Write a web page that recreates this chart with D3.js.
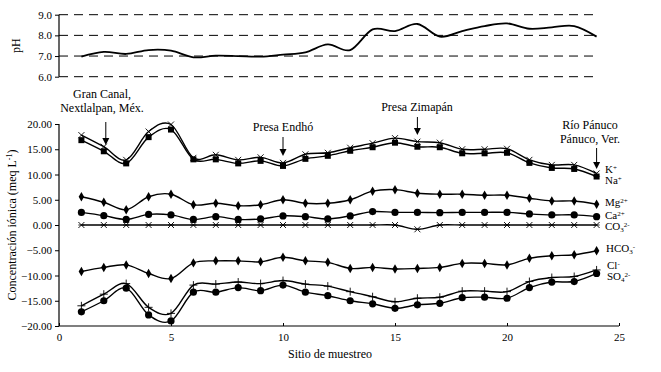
<!DOCTYPE html>
<html>
<head>
<meta charset="utf-8">
<script src="https://cdn.jsdelivr.net/npm/d3@7"></script>
<style>
  body { margin: 0; background: #fff; }
</style>
</head>
<body>
<script>
// sites 1..24
var sites = d3.range(1, 25);

var pH = [6.97, 7.2, 7.1, 7.29, 7.26, 6.94, 7.02, 7.0, 6.97, 7.07, 7.18, 7.56,
          7.29, 8.29, 8.21, 8.55, 7.94, 8.21, 8.45, 8.58, 8.32, 8.39, 8.45, 7.94];

var K  = [17.8, 15.5, 12.9, 18.5, 19.9, 13.3, 13.9, 12.9, 13.4, 12.3, 14.0, 14.3,
          15.3, 16.2, 17.2, 16.5, 16.3, 15.0, 15.0, 15.1, 12.9, 11.9, 11.9, 10.2];
var Na = [16.8, 14.6, 12.2, 17.4, 18.9, 13.0, 13.0, 12.2, 12.7, 11.7, 13.1, 13.7,
          14.7, 15.4, 16.3, 15.5, 15.4, 14.2, 14.2, 14.3, 12.3, 11.3, 11.1, 9.6];
var Mg = [5.6, 4.5, 3.0, 5.6, 6.1, 4.0, 4.3, 3.8, 4.0, 5.0, 4.3, 4.3,
          5.0, 6.7, 7.0, 6.3, 6.1, 6.1, 5.9, 5.9, 5.3, 4.75, 4.75, 4.1];
var Ca = [2.5, 1.85, 1.1, 2.1, 2.0, 1.1, 1.65, 1.1, 1.2, 1.8, 1.65, 1.2,
          1.8, 2.65, 2.5, 2.5, 2.45, 2.5, 2.5, 2.5, 2.2, 2.0, 2.0, 1.65];
var CO3 = [0, 0, 0, 0, 0, 0, 0, 0, 0, 0, 0, 0,
           0, 0, 0, -0.85, 0, 0, 0, 0, 0, 0, 0, 0];
var HCO3 = [-9.2, -8.4, -7.9, -9.6, -10.6, -7.5, -7.1, -7.1, -7.3, -6.4, -7.1, -7.4,
            -8.6, -8.4, -8.7, -8.6, -8.4, -7.6, -7.6, -7.9, -6.6, -6.1, -5.9, -5.1];
var Cl = [-16.0, -13.7, -11.6, -16.3, -17.5, -11.9, -11.7, -11.3, -11.6, -11.0, -11.7, -12.1,
          -13.2, -14.2, -15.2, -14.5, -14.3, -13.1, -13.1, -13.2, -11.2, -10.4, -10.2, -8.9];
var SO4 = [-17.2, -15.0, -12.5, -17.8, -19.0, -13.3, -13.3, -12.4, -13.0, -11.9, -13.3, -14.0,
           -15.0, -15.6, -16.5, -15.8, -15.5, -14.4, -14.3, -14.5, -12.4, -11.3, -11.2, -9.6];

var pHTicks = [6, 7, 8, 9];
var concTicks = [-20, -15, -10, -5, 0, 5, 10, 15, 20];
var siteTicks = [0, 5, 10, 15, 20, 25];

var width = 661, height = 372;
var FONT = "'Liberation Serif', 'Times New Roman', serif";

var svg = d3.select("body").append("svg")
    .attr("width", width)
    .attr("height", height)
    .attr("font-family", FONT);

var x = d3.scaleLinear().domain([0, 25]).range([59, 619]);
var yPH = d3.scaleLinear().domain([6, 9]).range([76.7, 14.7]);
var y = d3.scaleLinear().domain([-20, 20]).range([326, 124]);

// excel style smoothing
var curve = d3.curveCardinal.tension(0);

// ---- pH panel ----
svg.selectAll(".grid").data(pHTicks).enter()
  .append("line")
    .attr("x1", x(0)).attr("x2", x(24))
    .attr("y1", function(d){ return yPH(d); })
    .attr("y2", function(d){ return yPH(d); })
    .attr("stroke", "#000")
    .attr("stroke-width", 1)
    .attr("stroke-dasharray", "9,6");

var pHAxis = svg.append("g")
    .attr("transform", "translate(" + x(0) + ",0)")
    .call(d3.axisLeft(yPH).tickValues(pHTicks).tickSize(4).tickFormat(d3.format(".1f")));
pHAxis.select(".domain").attr("d", "M0," + yPH(6) + "V" + yPH(9)).attr("stroke-width", 1.2);

svg.append("path")
    .datum(pH)
    .attr("fill", "none")
    .attr("stroke", "#000")
    .attr("stroke-width", 1.8)
    .attr("d", d3.line()
        .x(function(d, i){ return x(sites[i]); })
        .y(function(d){ return yPH(d); })
        .curve(curve));

svg.append("text")
    .attr("transform", "translate(20," + yPH(7.5) + ") rotate(-90)")
    .attr("text-anchor", "middle")
    .style("font-size", "12px")
    .text("pH");

// ---- ion panel ----
var yAxis = svg.append("g")
    .attr("transform", "translate(" + x(0) + ",0)")
    .call(d3.axisLeft(y).tickValues(concTicks).tickSize(4).tickFormat(d3.format(".2f")));
yAxis.select(".domain").attr("d", "M0," + y(-20) + "V" + y(20)).attr("stroke-width", 1.2);

var xAxis = svg.append("g")
    .attr("transform", "translate(0," + y(-20) + ")")
    .call(d3.axisBottom(x).tickValues(siteTicks).tickSize(-3).tickPadding(7));
xAxis.select(".domain").attr("d", "M" + x(0) + ",0H" + x(25)).attr("stroke-width", 1.2);

[pHAxis, yAxis, xAxis].forEach(function(a){
  a.attr("font-family", FONT);
  a.selectAll("text").style("font-size", "11px").attr("fill", "#000");
});

var line = d3.line()
    .x(function(d, i){ return x(sites[i]); })
    .y(function(d){ return y(d); })
    .curve(curve);

var series = [
  {name: "K", values: K, marker: "x"},
  {name: "Na", values: Na, marker: "square"},
  {name: "Mg", values: Mg, marker: "diamond"},
  {name: "Ca", values: Ca, marker: "circle"},
  {name: "CO3", values: CO3, marker: "star"},
  {name: "HCO3", values: HCO3, marker: "diamond"},
  {name: "Cl", values: Cl, marker: "plus"},
  {name: "SO4", values: SO4, marker: "circle"}
];

series.forEach(function(s){
  svg.append("path")
      .datum(s.values)
      .attr("fill", "none")
      .attr("stroke", "#000")
      .attr("stroke-width", 1.4)
      .attr("d", line);

  var g = svg.append("g");
  s.values.forEach(function(v, i){
    var cx = x(sites[i]), cy = y(v);
    if (s.marker == "circle") {
      g.append("circle").attr("cx", cx).attr("cy", cy).attr("r", 3.6).attr("fill", "#000");
    } else if (s.marker == "square") {
      g.append("rect").attr("x", cx - 3).attr("y", cy - 3).attr("width", 6).attr("height", 6).attr("fill", "#000");
    } else if (s.marker == "diamond") {
      g.append("path").attr("d", d3.symbol(d3.symbolDiamond, 26)()).attr("transform", "translate(" + cx + "," + cy + ")").attr("fill", "#000");
    } else if (s.marker == "x") {
      g.append("path").attr("d", "M-3,-3L3,3M-3,3L3,-3").attr("transform", "translate(" + cx + "," + cy + ")").attr("stroke", "#000").attr("stroke-width", 0.9);
    } else if (s.marker == "plus") {
      g.append("path").attr("d", "M-4,0H4M0,-4V4").attr("transform", "translate(" + cx + "," + cy + ")").attr("stroke", "#000").attr("stroke-width", 0.9);
    } else if (s.marker == "star") {
      g.append("path").attr("d", "M-3,-3L3,3M-3,3L3,-3M-3,0H3").attr("transform", "translate(" + cx + "," + cy + ")").attr("stroke", "#000").attr("stroke-width", 0.9);
    }
  });
});

// series labels on the right
function label(xp, yp, parts){
  var t = svg.append("text").attr("x", xp).attr("y", yp).style("font-size", "11px");
  parts.forEach(function(p){
    var ts = t.append("tspan").text(p[0]);
    if (p[1] == "sup") ts.attr("dy", -3).style("font-size", "7px");
    if (p[1] == "sub") ts.attr("dy", 2).style("font-size", "7px");
    if (p[1] == "sup2") ts.attr("dy", -5).style("font-size", "7px");
  });
}
label(605, 173, [["K"], ["+", "sup"]]);
label(605, 184, [["Na"], ["+", "sup"]]);
label(605, 206, [["Mg"], ["2+", "sup"]]);
label(605, 219, [["Ca"], ["2+", "sup"]]);
label(605, 230, [["CO"], ["3", "sub"], ["2-", "sup2"]]);
label(606, 252, [["HCO"], ["3", "sub"], ["-", "sup2"]]);
label(607, 269, [["Cl"], ["-", "sup"]]);
label(607, 280, [["SO"], ["4", "sub"], ["2-", "sup2"]]);

// annotations with arrows
var notes = [
  {site: 2, lines: ["Gran Canal,", "Nextlalpan, Méx."], ty: 98, y1: 122, y2: 145},
  {site: 10, lines: ["Presa Endhó"], ty: 131, y1: 137, y2: 156},
  {site: 16, lines: ["Presa Zimapán"], ty: 111, y1: 117, y2: 135},
  {site: 24, lines: ["Río Pánuco", "Pánuco, Ver."], ty: 129, y1: 148, y2: 169}
];
var noteX = {2: 102, 10: 283, 16: 417, 24: 590};
notes.forEach(function(n){
  n.lines.forEach(function(l, i){
    svg.append("text")
        .attr("x", noteX[n.site])
        .attr("y", n.ty + i * 14)
        .attr("text-anchor", "middle")
        .style("font-size", "12px")
        .text(l);
  });
  var ax = n.site == 2 ? x(2) + 2 : x(n.site);
  svg.append("line")
      .attr("x1", ax).attr("x2", ax)
      .attr("y1", n.y1).attr("y2", n.y2 - 5)
      .attr("stroke", "#000").attr("stroke-width", 1);
  svg.append("path")
      .attr("d", "M" + (ax - 3.5) + "," + (n.y2 - 7) + "L" + (ax + 3.5) + "," + (n.y2 - 7) + "L" + ax + "," + n.y2 + "Z")
      .attr("fill", "#000");
});

// axis titles
var yt = svg.append("text")
    .attr("transform", "translate(16," + y(0) + ") rotate(-90)")
    .attr("text-anchor", "middle")
    .style("font-size", "12px");
yt.append("tspan").text("Concentración iónica (meq L");
yt.append("tspan").text("-1").attr("dy", -4).style("font-size", "8px");
yt.append("tspan").text(")").attr("dy", 4);

svg.append("text")
    .attr("x", 330)
    .attr("y", 358)
    .attr("text-anchor", "middle")
    .style("font-size", "12px")
    .text("Sitio de muestreo");
</script>
</body>
</html>
